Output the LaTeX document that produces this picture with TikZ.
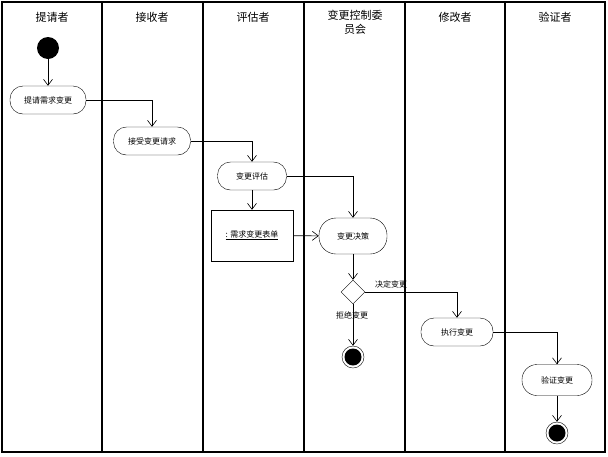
\documentclass[tikz,border=0pt]{standalone}
\usepackage{fontspec}
\setmainfont{Noto Sans CJK SC}
\usetikzlibrary{arrows.meta,shapes.geometric}
\begin{document}
\begin{tikzpicture}[x=1pt,y=-1pt,
  act/.style={draw,rounded corners=13pt,minimum height=28pt,font=\fontsize{8}{9}\selectfont,inner sep=2pt},
  arr/.style={draw,-{Straight Barb[length=6pt,width=9pt]},line width=0.6pt},
  lane/.style={line width=1.2pt},
  title/.style={font=\fontsize{11}{14}\selectfont,align=center},
  lbl/.style={font=\fontsize{8}{9}\selectfont}]
\useasboundingbox (0,0) rectangle (608,456);
\draw[lane] (2,2) rectangle (605,452);
\foreach \x in {102,203,304,405,505} \draw[lane] (\x,2) -- (\x,452);
\node[title] (t1) at (52,17) {提请者};
\node[title] (t2) at (152,17) {接收者};
\node[title] (t3) at (253,17) {评估者};
\node[title,anchor=north] (t4) at (355,7) {变更控制委\\员会};
\node[title] (t5) at (455,17) {修改者};
\node[title] (t6) at (555,17) {验证者};
\node[circle,fill=black,minimum size=22pt,inner sep=0] (s) at (48,48) {};
\node[act,minimum width=76pt] (a1) at (48,100) {提请需求变更};
\node[act,minimum width=77pt] (a2) at (152,141) {接受变更请求};
\node[act,minimum width=69pt] (a3) at (252,176) {变更评估};
\node[draw,minimum width=82pt,minimum height=51pt,font=\fontsize{8}{9}\selectfont] (o) at (252,235.5) {\underline{: 需求变更表单}};
\node[act,minimum width=68pt,minimum height=36pt,rounded corners=17pt] (a4) at (353,236) {变更决策};
\node[draw,diamond,minimum width=24pt,minimum height=24pt,inner sep=0] (d) at (353,292) {};
\node[act,minimum width=72pt] (a5) at (457,332) {执行变更};
\node[act,minimum width=70pt,minimum height=31pt,rounded corners=15pt] (a6) at (557,380) {验证变更};
\node[circle,draw,minimum size=22pt,inner sep=0] (e1) at (353,357) {};
\node[circle,fill=black,minimum size=17pt,inner sep=0] at (e1) {};
\node[circle,draw,minimum size=22pt,inner sep=0] (e2) at (557,433) {};
\node[circle,fill=black,minimum size=17pt,inner sep=0] at (e2) {};
\draw[arr] (s) -- (a1);
\draw[arr] (a1.east) -| (a2.north);
\draw[arr] (a2.east) -| (a3.north);
\draw[arr] (a3) -- (o);
\draw[arr] (a3.east) -| (a4.north);
\draw[arr] (o) -- (a4);
\draw[arr] (a4) -- (d);
\draw[arr] (d.east) -| (a5.north);
\draw[arr] (d) -- (e1);
\draw[arr] (a5.east) -| (a6.north);
\draw[arr] (a6) -- (e2);
\node[lbl] (l1) at (391,284) {决定变更};
\node[lbl] (l2) at (352,315) {拒绝变更};
\end{tikzpicture}
\end{document}
